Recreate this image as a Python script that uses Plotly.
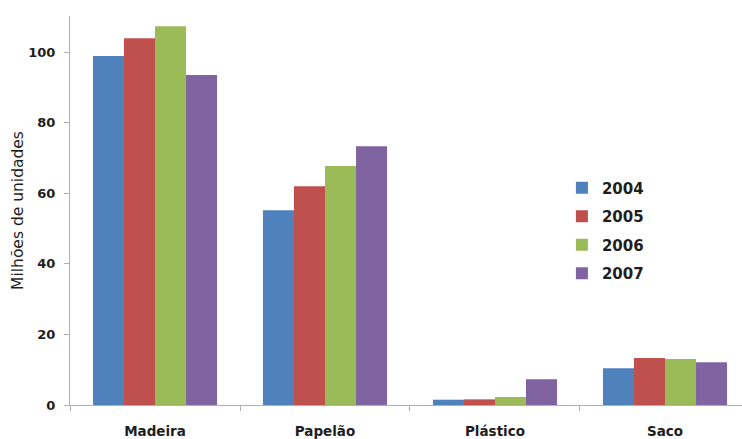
import plotly.graph_objects as go

categories = ["Madeira", "Papelão", "Plástico", "Saco"]
years = ["2004", "2005", "2006", "2007"]
values_2004 = [98.9, 55.2, 1.5, 10.4]
values_2005 = [103.9, 62.0, 1.6, 13.3]
values_2006 = [107.3, 67.7, 2.3, 13.0]
values_2007 = [93.5, 73.3, 7.3, 12.1]
colors = ["#4F81BD", "#C0504D", "#9BBB59", "#8064A2"]

series = [values_2004, values_2005, values_2006, values_2007]
font_family = "'DejaVu Sans', Verdana, sans-serif"
text_color = "#1e1e1e"

fig = go.Figure()
for year, vals, col in zip(years, series, colors):
    fig.add_trace(go.Bar(
        name=year, x=categories, y=vals, marker_color=col,
        marker_line_width=0, legendgroup=year,
    ))

fig.update_layout(
    width=742, height=439,
    margin=dict(l=70, r=0, t=16, b=34),
    paper_bgcolor="white", plot_bgcolor="white",
    barmode="group", bargap=0.27, bargroupgap=0,
    font=dict(family=font_family, color=text_color),
    showlegend=True,
    legend=dict(
        x=0.732, y=0.6, xanchor="left", yanchor="top",
        font=dict(size=15, family=font_family, weight="bold", color=text_color),
        traceorder="grouped", tracegroupgap=6,
        bgcolor="rgba(0,0,0,0)",
    ),
)

fig.update_xaxes(
    range=[-0.5, 3.453],
    showline=True, linecolor="#b0b0b0", linewidth=1,
    ticks="outside", tickson="boundaries", ticklen=5, tickcolor="#b0b0b0",
    tickfont=dict(size=13.5, family=font_family, weight="bold", color=text_color),
    ticklabelstandoff=14,
    showgrid=False, zeroline=False,
)
fig.update_yaxes(
    range=[0, 110.2],
    tickvals=[0, 20, 40, 60, 80, 100],
    showline=True, linecolor="#b0b0b0", linewidth=1,
    ticks="outside", ticklen=5, tickcolor="#b0b0b0",
    tickfont=dict(size=13, family=font_family, weight="bold", color=text_color),
    ticklabelstandoff=6,
    showgrid=False, zeroline=False,
    title=dict(text="Milhões de unidades", standoff=0,
               font=dict(size=15.5, family=font_family, color=text_color)),
)

fig.write_html("out.html")
